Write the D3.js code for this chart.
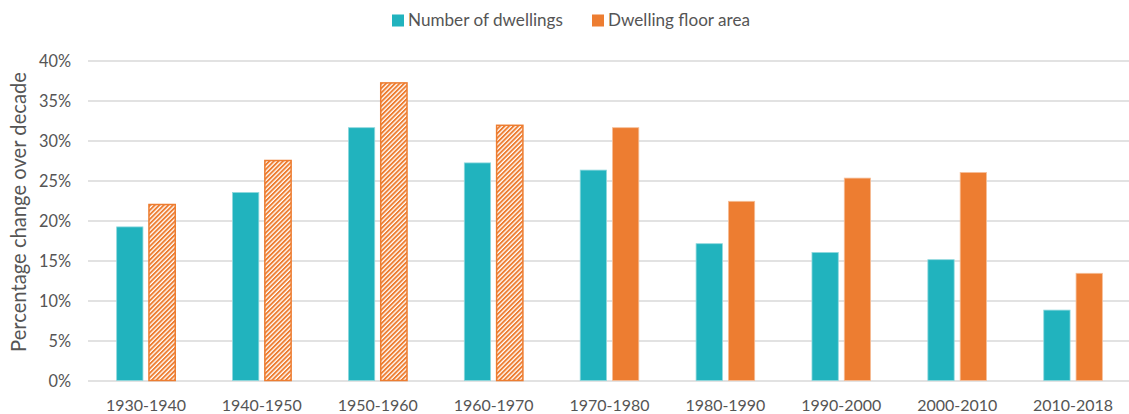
<!DOCTYPE html>
<html>
<head>
<meta charset="utf-8">
<script src="https://cdn.jsdelivr.net/npm/d3@7"></script>
<style>
  html, body { margin: 0; padding: 0; background: #fff; }
  svg { display: block; }
  text { font-family: Lato, "Open Sans", "Liberation Sans", sans-serif; fill: #555555; }
</style>
</head>
<body>
<svg id="chart" width="1129" height="414"></svg>
<script>
// ---- data ----
const categories = ["1930-1940", "1940-1950", "1950-1960", "1960-1970", "1970-1980",
                    "1980-1990", "1990-2000", "2000-2010", "2010-2018"];
const seriesNames = ["Number of dwellings", "Dwelling floor area"];
const dwellings = [19.2, 23.5, 31.6, 27.2, 26.3, 17.1, 16.0, 15.1, 8.8];
const floorArea = [22.0, 27.5, 37.2, 31.9, 31.6, 22.4, 25.3, 26.0, 13.4];
const floorAreaEstimated = [true, true, true, true, false, false, false, false, false];
const yTicks = [0, 5, 10, 15, 20, 25, 30, 35, 40];
const yTitle = "Percentage change over decade";

// ---- layout ----
const W = 1129, H = 414;
const plot = { left: 88, right: 1131, top: 60.5, bottom: 380.5 };
const teal = "#21B3BE", orange = "#ED7D31";

const svg = d3.select("#chart");

// hatch pattern
const defs = svg.append("defs");
const pw = 3.2;
const pat = defs.append("pattern")
  .attr("id", "hatch")
  .attr("patternUnits", "userSpaceOnUse")
  .attr("width", pw).attr("height", pw)
  .attr("patternTransform", "rotate(45)");
pat.append("rect").attr("width", pw).attr("height", pw).attr("fill", "#fff");
pat.append("rect").attr("x", 0).attr("y", 0).attr("width", 1.9).attr("height", pw).attr("fill", orange);

const x0 = d3.scaleBand().domain(categories).range([plot.left, plot.right]).paddingInner(0).paddingOuter(0);
const x1 = d3.scaleBand().domain(seriesNames).range([-29.3, 29.3]).paddingInner(0.186).paddingOuter(0);
const y = d3.scaleLinear().domain([0, 40]).range([plot.bottom, plot.top]);

// font fitting helper
function fitSize(sample, targetWidth, base) {
  const t = svg.append("text").attr("font-size", base).text(sample);
  const w = t.node().getComputedTextLength();
  t.remove();
  return base * targetWidth / w;
}
const tickSize = fitSize("1930-1940", 80, 18);
const yTickSize = fitSize("40%", 32, 18);
const legendSize = fitSize("Number of dwellings", 155, 18);
const titleSize = fitSize(yTitle, 280, 18);

// gridlines
const yAxis = d3.axisLeft(y).tickValues(yTicks).tickSize(-(W - plot.left)).tickFormat(d => d + "%").tickPadding(17);
const gy = svg.append("g").attr("transform", `translate(${plot.left},0)`).call(yAxis);
gy.select(".domain").remove();
gy.selectAll(".tick line").attr("stroke", "#D9D9D9").attr("stroke-width", 1.3);
gy.selectAll(".tick text").attr("font-size", yTickSize).attr("fill", "#555555")
  .attr("dy", "0.35em");

// bars
const rows = categories.map((c, i) => ({ cat: c, vals: [
  { s: seriesNames[0], v: dwellings[i], hatch: false },
  { s: seriesNames[1], v: floorArea[i], hatch: floorAreaEstimated[i] }
]}));

const groups = svg.append("g").selectAll("g").data(rows).join("g")
  .attr("transform", d => `translate(${x0(d.cat) + x0.bandwidth() / 2},0)`);

groups.selectAll("rect").data(d => d.vals).join("rect")
  .attr("x", d => x1(d.s))
  .attr("width", x1.bandwidth())
  .attr("y", d => y(d.v))
  .attr("height", d => y(0) - y(d.v))
  .attr("fill", d => d.s === seriesNames[0] ? teal : (d.hatch ? "url(#hatch)" : orange))
  .attr("stroke", d => d.s === seriesNames[0] ? "#8ED8DD" : (d.hatch ? orange : "#F6BE98"))
  .attr("stroke-width", d => d.hatch ? 1.5 : 0.8);

// x axis labels
const xAxis = d3.axisBottom(x0).tickSize(0).tickPadding(0);
const gx = svg.append("g").attr("transform", `translate(0,${plot.bottom})`).call(xAxis);
gx.select(".domain").remove();
gx.selectAll(".tick text").attr("font-size", tickSize).attr("fill", "#555555")
  .attr("y", 30).attr("dy", 0);

// y title
svg.append("text")
  .attr("transform", "translate(26,212) rotate(-90)")
  .attr("text-anchor", "middle")
  .attr("font-size", titleSize)
  .text(yTitle);

// legend
const legendItems = [
  { name: seriesNames[0], color: teal, x: 392 },
  { name: seriesNames[1], color: orange, x: 592 }
];
const lg = svg.append("g").selectAll("g").data(legendItems).join("g")
  .attr("transform", d => `translate(${d.x},0)`);
lg.append("rect").attr("x", 0).attr("y", 14.5).attr("width", 12).attr("height", 12).attr("fill", d => d.color);
lg.append("text").attr("x", 16).attr("y", 25.8).attr("font-size", legendSize).text(d => d.name);
</script>
</body>
</html>
